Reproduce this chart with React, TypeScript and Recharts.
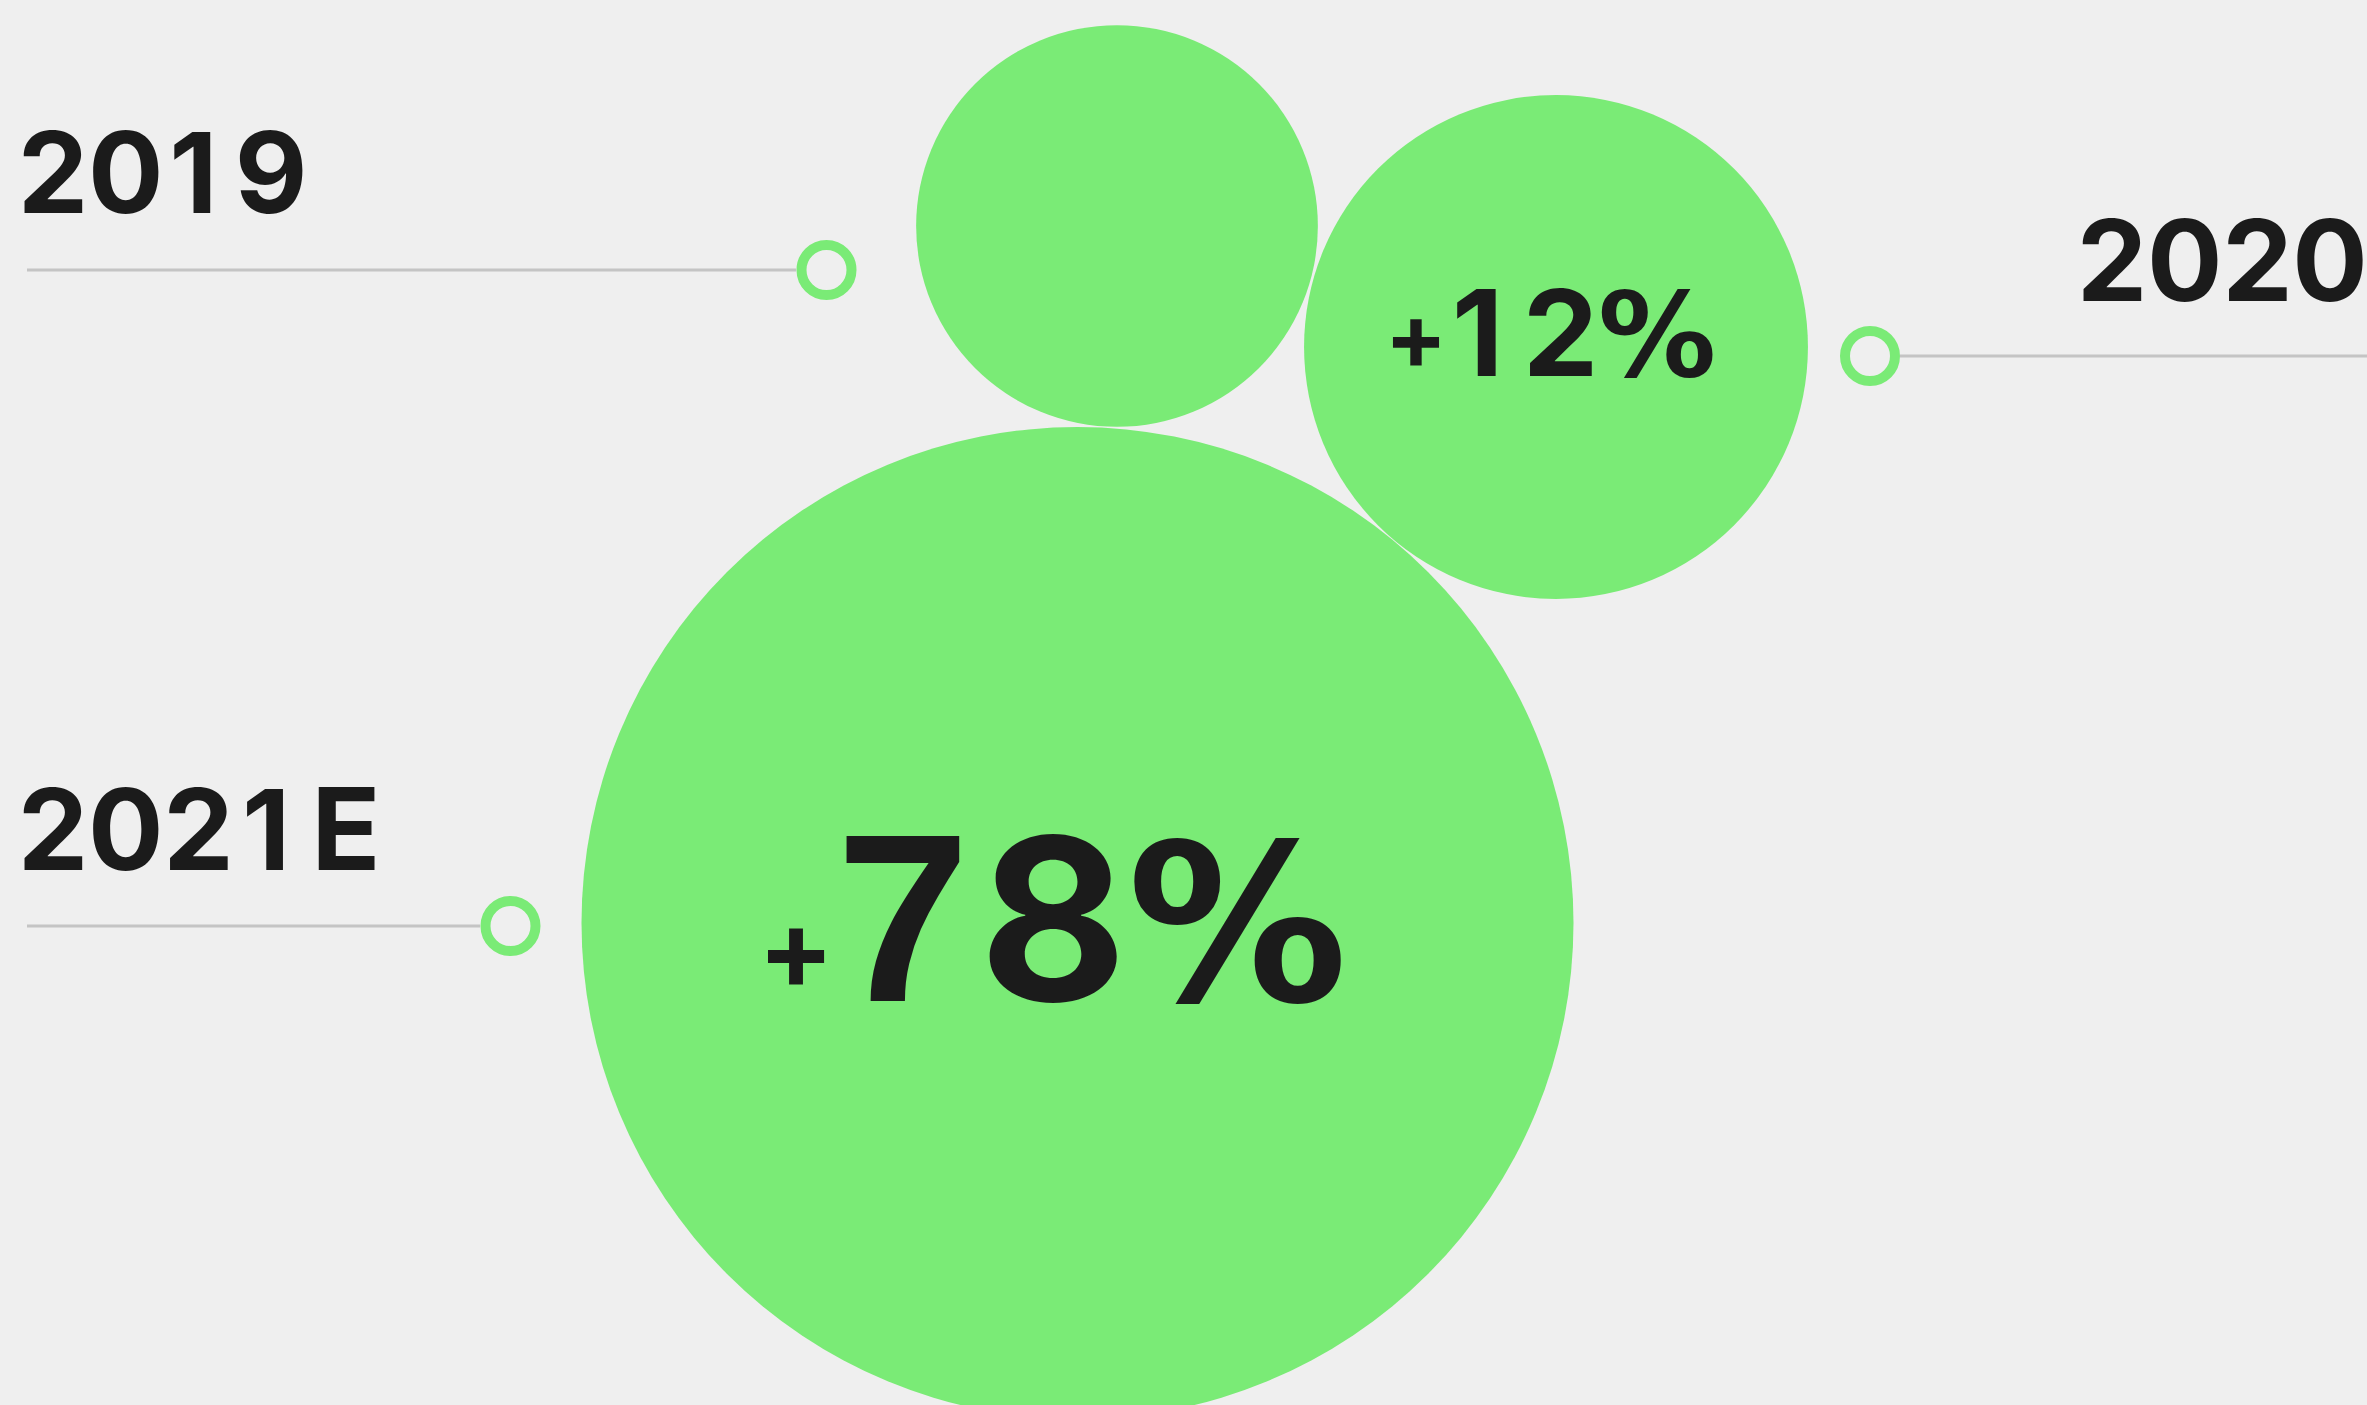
import React from 'react';
import {
  ScatterChart,
  Scatter,
  XAxis,
  YAxis,
  ZAxis,
  ReferenceLine,
  ReferenceDot,
} from 'recharts';

// ---- chart canvas (axis units = pixels of the artwork) ----
const W = 2367;
const H = 1405;

// ---- data ----
const categories = ['2019', '2020', '2021E'];
const bubbleX = [1117, 1556, 1077.5];
const bubbleY = [226, 347, 923];
const bubbleArea = [16.4, 25.8, 100]; // relative bubble area (2021E = 100)
const growthLabels = ['', '+12%', '+78%'];

// annotation anchors (first glyph slot of year label, baseline, marker ring, leader line)
const yearLabelX = [53, 2112, 53];
const yearLabelY = [213, 301, 870];
const markerX = [826.5, 1870, 510.5];
const markerY = [270, 356, 926];
const lineStartX = [27, 1900, 27];
const lineEndX = [796, 2367, 480];

// ---- styles ----
const GREEN = '#7aeb76';
const BG = '#efefef';
const INK = '#1b1b1b';
const LINE = '#c4c4c4';
const FONT = 'Inter, "Liberation Sans", Arial, sans-serif';
const ALT_FONT = '"Liberation Sans", Arial, sans-serif';
const PCT_FONT = '"DejaVu Sans", Inter, sans-serif';

// per-glyph layout of the growth labels, relative to the bubble centre
type GStyle = { sizes: number[]; fonts: string[]; dxs: number[]; dys: number[] };
const growthStyle: Record<string, GStyle> = {
  '2020': {
    sizes: [92, 120, 120, 118],
    fonts: [FONT, FONT, FONT, PCT_FONT],
    dxs: [-140, -78.5, 4.5, 101],
    dys: [22, 29, 29, 29],
  },
  '2021E': {
    sizes: [112, 240, 227, 220],
    fonts: [FONT, ALT_FONT, FONT, PCT_FONT],
    dxs: [-281.5, -174.5, -24.5, 160],
    dys: [66, 78, 78, 78],
  },
};

const YEAR_SIZE = 112;
const YEAR_PITCH = 72.7;

const bubbleData = categories.map((c, i) => ({
  name: c,
  x: bubbleX[i],
  y: bubbleY[i],
  z: bubbleArea[i],
  growth: growthLabels[i],
}));

const labelData = categories.map((c, i) => ({
  name: c,
  x: yearLabelX[i],
  y: yearLabelY[i],
}));

const Bubble = (props: any) => {
  const { cx, cy, width, payload } = props;
  const r = width / 2;
  const st = growthStyle[payload.name];
  const chars: string[] = (payload.growth || '').split('');
  return (
    <g>
      <circle cx={cx} cy={cy} r={r} fill={GREEN} />
      {st
        ? chars.map((ch, k) => (
            <text
              key={k}
              x={cx + st.dxs[k]}
              y={cy + st.dys[k]}
              textAnchor="middle"
              fontFamily={st.fonts[k]}
              fontWeight={700}
              fontSize={st.sizes[k]}
              fill={INK}
            >
              {ch}
            </text>
          ))
        : null}
    </g>
  );
};

// tabular-style layout: each glyph centred in a fixed-width slot
const YearLabel = (props: any) => {
  const { cx, cy, payload } = props;
  const chars: string[] = payload.name.split('');
  let pos = 0;
  return (
    <g>
      {chars.map((ch, k) => {
        if (k > 0) pos += ch === 'E' ? YEAR_PITCH * 1.03 : YEAR_PITCH;
        const shift = ch === '1' ? -5 : 0;
        return (
          <text
            key={k}
            x={cx + pos + shift}
            y={cy}
            textAnchor="middle"
            fontFamily={FONT}
            fontWeight={700}
            fontSize={ch === 'E' ? YEAR_SIZE * 1.02 : YEAR_SIZE}
            fill={INK}
          >
            {ch}
          </text>
        );
      })}
    </g>
  );
};

export default function App() {
  return (
    <div
      style={{
        position: 'absolute',
        left: 0,
        top: 0,
        width: W,
        height: H,
        background: BG,
        overflow: 'hidden',
      }}
    >
      <ScatterChart width={W} height={H} margin={{ top: 0, right: 0, bottom: 0, left: 0 }}>
        <XAxis type="number" dataKey="x" domain={[0, W]} hide />
        <YAxis type="number" dataKey="y" domain={[0, H]} reversed hide />
        <ZAxis type="number" dataKey="z" domain={[0, 100]} range={[0, Math.PI * 496 * 496]} />
        {categories.map((c, i) => (
          <ReferenceLine
            key={'l' + c}
            segment={[
              { x: lineStartX[i], y: markerY[i] },
              { x: lineEndX[i], y: markerY[i] },
            ]}
            stroke={LINE}
            strokeWidth={3}
            ifOverflow="visible"
          />
        ))}
        {categories.map((c, i) => (
          <ReferenceDot
            key={'d' + c}
            x={markerX[i]}
            y={markerY[i]}
            r={25}
            fill="none"
            stroke={GREEN}
            strokeWidth={10}
            ifOverflow="visible"
          />
        ))}
        <Scatter data={bubbleData} shape={Bubble} isAnimationActive={false} />
        <Scatter data={labelData} shape={YearLabel} isAnimationActive={false} />
      </ScatterChart>
    </div>
  );
}
